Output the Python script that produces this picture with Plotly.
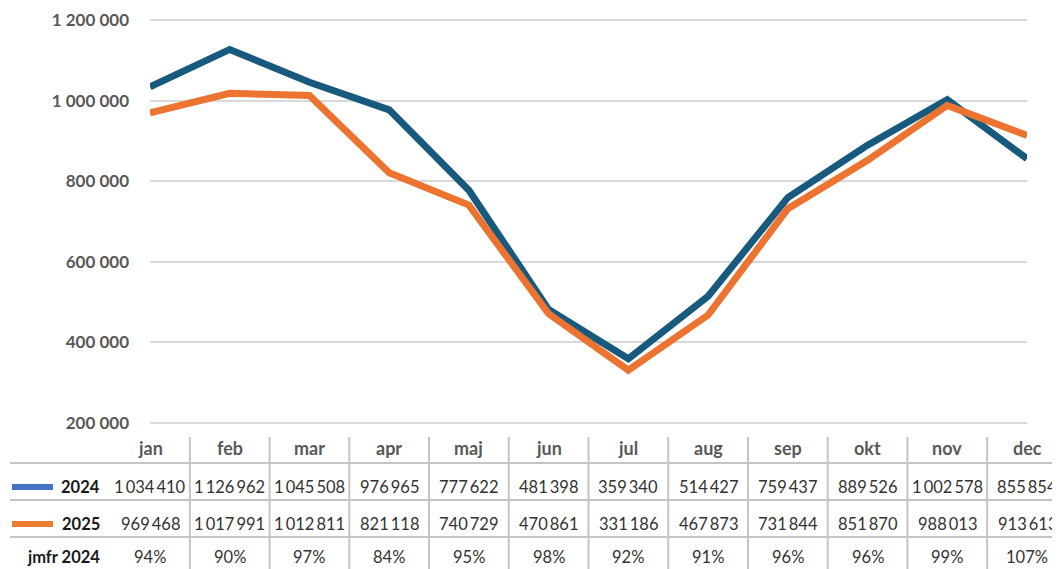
import plotly.graph_objects as go

months = ["jan", "feb", "mar", "apr", "maj", "jun", "jul", "aug", "sep", "okt", "nov", "dec"]
sales_2024 = [1034410, 1126962, 1045508, 976965, 777622, 481398, 359340, 514427, 759437, 889526, 1002578, 855854]
sales_2025 = [969468, 1017991, 1012811, 821118, 740729, 470861, 331186, 467873, 731844, 851870, 988013, 913613]
jmfr_2024 = ["94%", "90%", "97%", "84%", "95%", "98%", "92%", "91%", "96%", "96%", "99%", "107%"]
y_ticks = [200000, 400000, 600000, 800000, 1000000, 1200000]
y_tick_labels = ["200 000", "400 000", "600 000", "800 000", "1 000 000", "1 200 000"]
series_names = ["2024", "2025"]
jmfr_label = "jmfr 2024"

# page body margin offset compensation
OFF = 8
W, H = 1060 - OFF, 569 - OFF

# reference pixel geometry of the value axis: 200 000 -> y=423, 1 200 000 -> y=20
Y_LO, Y_HI = 195000, 1205000
pix_per_unit = (423 - 20) / (1200000 - 200000)
top_pix = 20 - (Y_HI - 1200000) * pix_per_unit
bot_pix = 423 + (200000 - Y_LO) * pix_per_unit

L = 150 - OFF
R = W - (1027 - OFF)
T = top_pix - OFF
B = H - (bot_pix - OFF)
PH = H - T - B
PW = W - L - R

LINE_COLORS = ["#175A7E", "#EC7430"]
KEY_COLORS = ["#4472C4", "#ED7D31"]
GRID = "#D9D9D9"
TABLE_LINE = "#C4C4C4"
FONT = "Lato"


def py(p):
    # p: pixel in the reference image
    return (H - B - (p - OFF)) / PH


def px(p):
    return ((p - OFF) - L) / PW


def fmt(v):
    return f"{v:,}".replace(",", "\u2009")


idx = list(range(len(months)))

fig = go.Figure()
for name, vals, col in zip(series_names, [sales_2024, sales_2025], LINE_COLORS):
    fig.add_trace(go.Scatter(x=idx, y=vals, mode="lines", name=name,
                             line=dict(color=col, width=7), showlegend=False,
                             hoverinfo="skip"))

shapes = []
annotations = []

# table horizontal lines
for p in [463, 500, 537]:
    shapes.append(dict(type="line", xref="paper", yref="paper", x0=px(10), x1=px(1070),
                       y0=py(p), y1=py(p), line=dict(color=TABLE_LINE, width=2), layer="above"))
# table vertical lines
for i in range(len(months) + 1):
    shapes.append(dict(type="line", xref="x", yref="paper", x0=i - 0.5, x1=i - 0.5,
                       y0=py(437), y1=py(580), line=dict(color=TABLE_LINE, width=2), layer="above"))

row_y = [py(487), py(524)]
# header
for i, m in enumerate(months):
    annotations.append(dict(x=i, y=py(448), xref="x", yref="paper", text=m, showarrow=False,
                            xanchor="center", yanchor="middle",
                            font=dict(family=FONT, size=18, color="#595959", weight="bold")))
# series rows
for r, (name, vals, kc) in enumerate(zip(series_names, [sales_2024, sales_2025], KEY_COLORS)):
    shapes.append(dict(type="line", xref="paper", yref="paper", x0=px(12), x1=px(53),
                       y0=row_y[r], y1=row_y[r], line=dict(color=kc, width=6), layer="above"))
    annotations.append(dict(x=px(102), y=row_y[r], xref="paper", yref="paper", text=name,
                            showarrow=False, xanchor="right", yanchor="middle",
                            font=dict(family=FONT, size=16.5, color="#1A1A1A", weight="bold")))
    for i, v in enumerate(vals):
        annotations.append(dict(x=i, y=row_y[r], xref="x", yref="paper", text=fmt(v),
                                showarrow=False, xanchor="center", yanchor="middle",
                                font=dict(family=FONT, size=16.5, color="#333333")))
# jmfr row
JM_Y = py(557)
annotations.append(dict(x=px(102), y=JM_Y, xref="paper", yref="paper", text=jmfr_label,
                        showarrow=False, xanchor="right", yanchor="middle",
                        font=dict(family=FONT, size=16.5, color="#1A1A1A", weight="bold")))
for i, t in enumerate(jmfr_2024):
    annotations.append(dict(x=i, y=JM_Y, xref="x", yref="paper", text=t,
                            showarrow=False, xanchor="center", yanchor="middle",
                            font=dict(family=FONT, size=16.5, color="#333333")))

fig.update_layout(
    width=W, height=H,
    margin=dict(l=L, r=R, t=T, b=B, pad=0, autoexpand=False),
    paper_bgcolor="white", plot_bgcolor="white",
    shapes=shapes, annotations=annotations,
    xaxis=dict(range=[0, len(months) - 1], showgrid=False, zeroline=False,
               showticklabels=False, showline=False, ticks="", automargin=False),
    yaxis=dict(range=[Y_LO, Y_HI], tickvals=y_ticks, ticktext=y_tick_labels,
               showgrid=True, gridcolor=GRID, gridwidth=2, zeroline=False, showline=False,
               ticks="", ticklabelstandoff=20, automargin=False,
               tickfont=dict(family=FONT, size=17, color="#595959", weight="bold")),
)

fig.write_html("out.html")
